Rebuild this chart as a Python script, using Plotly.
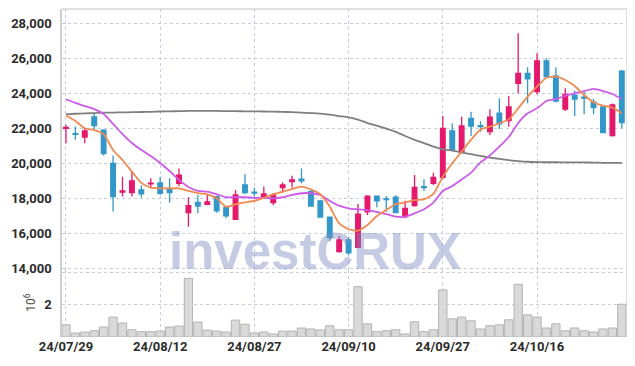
import plotly.graph_objects as go

dates = [
    "2024-07-29", "2024-07-30", "2024-07-31",
    "2024-08-01", "2024-08-02", "2024-08-05", "2024-08-06", "2024-08-07", "2024-08-08", "2024-08-09",
    "2024-08-12", "2024-08-13", "2024-08-14", "2024-08-16", "2024-08-19", "2024-08-20", "2024-08-21",
    "2024-08-22", "2024-08-23", "2024-08-26", "2024-08-27", "2024-08-28", "2024-08-29", "2024-08-30",
    "2024-09-02", "2024-09-03", "2024-09-04", "2024-09-05", "2024-09-06", "2024-09-09", "2024-09-10",
    "2024-09-11", "2024-09-12", "2024-09-13", "2024-09-19", "2024-09-20", "2024-09-23", "2024-09-24",
    "2024-09-25", "2024-09-26", "2024-09-27", "2024-09-30",
    "2024-10-02", "2024-10-04", "2024-10-07", "2024-10-08", "2024-10-10", "2024-10-11", "2024-10-14",
    "2024-10-15", "2024-10-16", "2024-10-17", "2024-10-18", "2024-10-21", "2024-10-22", "2024-10-23",
    "2024-10-24", "2024-10-25", "2024-10-28", "2024-10-29",
]
tick_dates = ["2024-07-29", "2024-08-12", "2024-08-27", "2024-09-10", "2024-09-27", "2024-10-16"]
tick_labels = ["24/07/29", "24/08/12", "24/08/27", "24/09/10", "24/09/27", "24/10/16"]

opens = [22000, 21700, 21500, 22650, 21900, 20000, 18350, 18320, 18480, 18820,
         18880, 18570, 18850, 17180, 17770, 17660, 18090, 17460, 16800, 18760,
         18350, 18060, 17750, 18610, 18950, 19100, 18380, 17850, 16930, 14950,
         15620, 15200, 17230, 18130, 17970, 18060, 16950, 17580, 18660, 18860,
         19200, 21850, 20610, 22570, 22150, 21810, 22860, 22440, 24570, 25140,
         24090, 25850, 24990, 23100, 23900, 23780, 23490, 23220, 21580, 25270]
highs = [22200, 22100, 22000, 22850, 21950, 20450, 19230, 19560, 18750, 19150,
         19230, 19150, 19700, 18060, 18190, 18230, 18150, 17520, 18470, 19370,
         18600, 18670, 18290, 18910, 19290, 19710, 18470, 17900, 16950, 15850,
         15770, 17670, 18180, 18160, 18130, 18170, 17860, 19330, 19090, 19460,
         22700, 22290, 22660, 22950, 22400, 23090, 23710, 23850, 27430, 25490,
         26290, 26000, 25490, 24290, 24150, 24090, 23670, 23250, 23410, 25330]
lows = [21140, 21350, 21150, 21950, 20450, 17250, 18100, 18100, 18050, 18570,
        18200, 17750, 18700, 16380, 17150, 17620, 17180, 16860, 16760, 18230,
        18100, 18000, 17600, 18320, 18610, 18860, 17520, 16890, 15560, 14890,
        14760, 15140, 17050, 17490, 17230, 17140, 16860, 17520, 18420, 18760,
        19090, 20760, 20570, 21560, 21800, 21620, 21960, 22090, 24000, 23430,
        23940, 24860, 23490, 22990, 22700, 22800, 22800, 21740, 21520, 22000]
closes = [22050, 21650, 21850, 22150, 20550, 18100, 18420, 19000, 18250, 18870,
          18280, 18320, 19330, 17580, 17560, 17800, 17280, 17000, 18190, 18320,
          18300, 18250, 18190, 18760, 19050, 19000, 17560, 16930, 15750, 15620,
          14890, 17100, 18130, 17860, 17920, 17180, 17430, 18630, 18610, 19200,
          22000, 20800, 22130, 22130, 22100, 22630, 22250, 23220, 25140, 24820,
          25850, 24950, 23560, 23940, 23670, 23720, 23180, 21750, 23330, 22320]

ma_short = [22730, 22420, 22000, 21900, 21670, 20760, 20190, 19520, 18880, 18610,
            18570, 18570, 18570, 18420, 18290, 18230, 18000, 17520, 17660, 17770,
            17860, 18030, 18230, 18380, 18530, 18670, 18510, 18230, 17520, 16570,
            16230, 16150, 16470, 16990, 17330, 17670, 17750, 17900, 17940, 18250,
            19230, 20000, 20660, 21350, 21920, 22090, 22290, 22510, 23140, 23810,
            24380, 24890, 24950, 24760, 24420, 23900, 23490, 23290, 23180, 22860]
ma_mid = [23660, 23450, 23270, 23100, 22820, 22250, 21670, 21160, 20760, 20420,
          20020, 19560, 19050, 18650, 18420, 18380, 18230, 18060, 18060, 18060,
          18030, 18030, 18000, 18060, 18190, 18290, 18290, 18190, 17850, 17580,
          17430, 17370, 17330, 17230, 17100, 16950, 16950, 17140, 17370, 17750,
          18420, 18700, 19080, 19470, 20050, 20450, 20950, 21500, 22300, 22860,
          23140, 23560, 23670, 23860, 24000, 24130, 24250, 24130, 23960, 23670]
ma_long = [22800, 22830, 22850, 22870, 22890, 22900, 22910, 22920, 22930, 22940,
           22960, 22970, 22980, 22990, 22990, 22990, 22990, 22980, 22980, 22970,
           22970, 22960, 22950, 22940, 22920, 22900, 22870, 22840, 22780, 22700,
           22630, 22500, 22300, 22150, 21980, 21800, 21560, 21340, 21150, 20950,
           20800, 20720, 20620, 20520, 20420, 20330, 20250, 20180, 20130, 20090,
           20070, 20060, 20060, 20050, 20050, 20050, 20040, 20030, 20020, 20030]

volumes = [0.76, 0.25, 0.31, 0.39, 0.62, 1.24, 0.87, 0.45, 0.33, 0.33,
           0.37, 0.62, 0.68, 3.65, 0.93, 0.43, 0.37, 0.31, 1.05, 0.80,
           0.25, 0.31, 0.19, 0.37, 0.37, 0.56, 0.50, 0.44, 0.70, 0.45,
           0.45, 3.13, 0.82, 0.33, 0.39, 0.45, 0.19, 0.95, 0.33, 0.45,
           2.93, 1.13, 1.24, 1.01, 0.50, 0.70, 0.76, 1.07, 3.28, 1.38,
           1.24, 0.56, 0.82, 0.39, 0.56, 0.39, 0.31, 0.50, 0.56, 2.04]
volumes = [v * 1e6 for v in volumes]

price_ticks = [14000, 16000, 18000, 20000, 22000, 24000, 26000, 28000]
vol_ticks = [2e6, 4e6]
vol_tick_labels = ["2", ""]

RED = "#e5196b"
BLUE = "#3497c9"
GRID = "#c8cce0"
FONT = "Roboto"

fig = go.Figure()
fig.add_trace(go.Bar(
    x=dates, y=volumes, xaxis="x", yaxis="y2",
    marker=dict(color="#d9d9d9", line=dict(color="#b3b3b3", width=1)),
    showlegend=False, hoverinfo="skip",
))
fig.add_trace(go.Candlestick(
    x=dates, open=opens, high=highs, low=lows, close=closes,
    xaxis="x", yaxis="y",
    increasing=dict(line=dict(color=RED, width=1.3), fillcolor=RED),
    decreasing=dict(line=dict(color=BLUE, width=1.3), fillcolor=BLUE),
    whiskerwidth=0, showlegend=False,
))
for vals, col in [(ma_long, "#7f7f7f"), (ma_mid, "#cc5ae9"), (ma_short, "#f08a50")]:
    fig.add_trace(go.Scatter(
        x=dates, y=vals, mode="lines", xaxis="x", yaxis="y",
        line=dict(color=col, width=1.8, shape="spline", smoothing=0.6),
        showlegend=False, hoverinfo="skip",
    ))

split = 67 / 328
tickfont = dict(family=FONT, size=13, color="#2b2b2b", weight="bold")
fig.update_layout(
    width=635, height=366,
    margin=dict(l=54, r=16, t=1, b=37),
    paper_bgcolor="white", plot_bgcolor="white",
    bargap=0.12,
    xaxis=dict(
        type="category", range=[-0.42, 59.55], anchor="y2", automargin=False,
        tickvals=tick_dates, ticktext=tick_labels, tickfont=tickfont,
        showgrid=True, gridcolor=GRID, griddash="dot", gridwidth=1,
        zeroline=False, showline=False, ticks="",
        rangeslider=dict(visible=False),
    ),
    yaxis=dict(
        domain=[split, 1], range=[13903, 28817], automargin=False,
        tickvals=price_ticks, tickformat=",", tickfont=tickfont,
        showgrid=True, gridcolor=GRID, griddash="dot", gridwidth=1,
        zeroline=False, showline=True, linecolor="#cfcfcf", linewidth=1.5,
        ticks="", ticklabelstandoff=6,
    ),
    yaxis2=dict(
        domain=[0, split], range=[0, 4.17e6], automargin=False,
        tickvals=vol_ticks, ticktext=vol_tick_labels, tickfont=tickfont,
        showgrid=True, gridcolor=GRID, griddash="dot", gridwidth=1,
        zeroline=False, showline=True, linecolor="#cfcfcf", linewidth=1.5,
        ticks="", ticklabelstandoff=6,
    ),
    shapes=[
        dict(type="line", xref="paper", yref="paper", x0=0, x1=1, y0=1, y1=1,
             line=dict(color="#d6d6d6", width=1.5)),
        dict(type="line", xref="paper", yref="paper", x0=1, x1=1, y0=0, y1=1,
             line=dict(color="#d6d6d6", width=1.5)),
    ],
    annotations=[
        dict(text="investCRUX", xref="paper", yref="paper", x=0.448, y=0.262,
             xanchor="center", yanchor="middle", showarrow=False,
             font=dict(family="Liberation Sans", size=51, color="rgba(126,139,193,0.45)", weight="bold")),
        dict(text="10<sup>6</sup>", xref="paper", yref="paper", x=-0.057, y=0.107,
             xanchor="center", yanchor="middle", showarrow=False, textangle=-90,
             font=dict(family=FONT, size=12, color="#444")),
    ],
)

fig.write_html("out.html")
